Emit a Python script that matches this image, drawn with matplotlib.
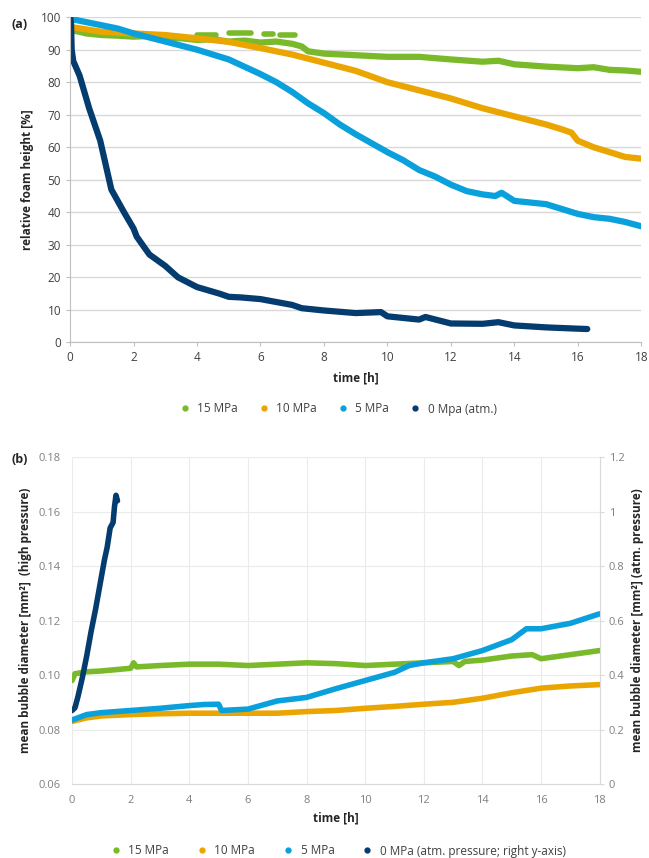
import numpy as np
import matplotlib.pyplot as plt
from matplotlib.lines import Line2D

plt.rcParams['font.family'] = ['Open Sans', 'DejaVu Sans']

# ---- colours
c15 = '#7AB929'
c10 = '#EBA500'
c5 = '#0AA0DC'
c0 = '#053C70'

# ---- panel (a): relative foam height [%]
t_a15 = [0, 0.3, 0.5, 1, 1.5, 2, 2.5, 3, 3.5, 4, 4.5, 5, 5.5, 6, 6.5, 7, 7.3, 7.5, 8, 9, 10, 11, 12, 13,
         13.5, 14, 15, 16, 16.5, 17, 17.5, 18]
h_a15 = [96, 95.5, 95, 94.5, 94.3, 94, 94.2, 93.5, 93.5, 93, 93.2, 92.5, 92.8, 92.2, 92.5, 91.8, 91, 89.5,
         88.8, 88.3, 87.8, 87.8, 87, 86.3, 86.6, 85.5, 84.8, 84.3, 84.6, 83.8, 83.6, 83.2]
# upper scattered dashes of the 15 MPa series
t_a15_up = [4.0, 4.6, np.nan, 5.0, 5.7, np.nan, 6.1, 6.4, np.nan, 6.6, 7.1]
h_a15_up = [94.6, 94.6, np.nan, 95.0, 95.0, np.nan, 94.7, 94.7, np.nan, 94.6, 94.6]

t_a10 = [0, 1, 2, 3, 4, 5, 6, 7, 8, 9, 10, 11, 12, 13, 14, 15, 15.5, 15.8, 16, 16.5, 17, 17.5, 18]
h_a10 = [97, 95.5, 95, 94.5, 93.5, 92.4, 90.5, 88.5, 86, 83.5, 80, 77.5, 75, 72, 69.5, 67, 65.5, 64.5, 62,
         60, 58.5, 57, 56.5]

t_a5 = [0, 0.5, 1, 1.5, 2, 3, 4, 5, 6, 6.5, 7, 7.5, 8, 8.5, 9, 10, 10.5, 11, 11.5, 12, 12.5, 13, 13.4, 13.6,
        14, 15, 15.5, 16, 16.5, 17, 17.5, 18]
h_a5 = [99.5, 98.5, 97.5, 96.5, 95, 92.5, 90, 87, 82.5, 80, 77, 73.5, 70.5, 67, 64, 58.5, 56, 53, 51, 48.5,
        46.5, 45.5, 45, 46, 43.5, 42.5, 41, 39.5, 38.5, 38, 37, 35.7]

t_a0 = [0, 0.03, 0.05, 0.1, 0.3, 0.6, 0.95, 1.3, 1.7, 2.0, 2.1, 2.5, 3.0, 3.4, 4.0, 4.7, 5, 5.4, 6, 7, 7.3,
        8, 9, 9.8, 10, 11, 11.2, 12, 13, 13.5, 14, 15, 16, 16.3]
h_a0 = [100, 98, 90, 86.5, 82, 72, 62, 47, 40, 35, 32.5, 27, 23.5, 20, 17, 15, 14, 13.8, 13.3, 11.5, 10.5,
        9.8, 9, 9.3, 8, 7, 7.8, 5.8, 5.7, 6.2, 5.2, 4.6, 4.2, 4.1]

# ---- panel (b): mean bubble diameter [mm2]
t_b15 = [0, 0.1, 0.5, 1, 1.5, 2, 2.1, 2.2, 3, 4, 5, 6, 7, 8, 9, 10, 11, 12, 13, 13.2, 13.4, 14, 15, 15.7,
         16, 17, 18]
d_b15 = [0.098, 0.1005, 0.1012, 0.1015, 0.102, 0.1025, 0.1045, 0.103, 0.1035, 0.104, 0.104, 0.1035, 0.104,
         0.1045, 0.1042, 0.1035, 0.104, 0.1045, 0.105, 0.1035, 0.105, 0.1055, 0.107, 0.1075, 0.106, 0.1075,
         0.109]

t_b10 = [0, 0.5, 1, 2, 3, 4, 5, 6, 7, 8, 9, 10, 11, 12, 13, 14, 15, 16, 17, 18]
d_b10 = [0.083, 0.0843, 0.085, 0.0855, 0.0858, 0.086, 0.086, 0.086, 0.086, 0.0866, 0.087, 0.0878, 0.0885,
         0.0893, 0.090, 0.0915, 0.0935, 0.0952, 0.096, 0.0965]

t_b5 = [0, 0.5, 1, 2, 3, 4, 4.5, 5.0, 5.1, 6, 7, 8, 9, 10, 11, 11.5, 12, 13, 14, 15, 15.5, 16, 17, 18]
d_b5 = [0.0835, 0.0855, 0.0862, 0.087, 0.0878, 0.0888, 0.0892, 0.0893, 0.087, 0.0875, 0.0905, 0.0918, 0.095,
        0.098, 0.101, 0.1035, 0.1045, 0.106, 0.109, 0.113, 0.117, 0.117, 0.119, 0.1225]

t_b0 = [0, 0.1, 0.2, 0.35, 0.5, 0.65, 0.8, 0.95, 1.1, 1.2, 1.3, 1.4, 1.45, 1.5, 1.55]
d_b0 = [0.27, 0.28, 0.32, 0.39, 0.47, 0.56, 0.64, 0.73, 0.82, 0.87, 0.94, 0.96, 1.02, 1.06, 1.04]

fig = plt.figure(figsize=(6.49, 8.58), dpi=100)

# ================= panel (a)
ax = fig.add_axes([0.108, 0.601, 0.880, 0.379])
ax.plot(t_a15_up, h_a15_up, color=c15, lw=4, solid_capstyle='round')
for t, h, c in [(t_a15, h_a15, c15), (t_a10, h_a10, c10), (t_a5, h_a5, c5), (t_a0, h_a0, c0)]:
    ax.plot(t, h, color=c, lw=4.5, solid_capstyle='round', solid_joinstyle='round')
ax.set_xlim(0, 18)
ax.set_ylim(0, 100)
ax.set_xticks(range(0, 19, 2))
ax.set_yticks(range(0, 101, 10))
ax.grid(axis='y', color='#D9D9D9', lw=1)
ax.set_axisbelow(True)
for s in ['top', 'right']:
    ax.spines[s].set_visible(False)
for s in ['left', 'bottom']:
    ax.spines[s].set_color('#BFBFBF')
ax.tick_params(length=3, color='#BFBFBF', labelsize=8.5, labelcolor='#404040')
ax.set_xlabel('time [h]', fontsize=8.5, fontweight='bold', color='#262626', labelpad=5)
ax.set_ylabel('relative foam height [%]', fontsize=8.5, fontweight='bold', color='#262626', labelpad=5)
fig.text(0.018, 0.972, '(a)', fontsize=9, fontweight='bold', color='#262626', va='center')

labels_a = ['15 MPa', '10 MPa', '5 MPa', '0 Mpa (atm.)']
handles = [Line2D([], [], marker='o', ls='', ms=3.5, color=c) for c in [c15, c10, c5, c0]]
fig.legend(handles, labels_a, loc='center', bbox_to_anchor=(0.516, 1 - 409 / 858), ncol=4, frameon=False,
           fontsize=8.5, handletextpad=0.05, columnspacing=1.2, labelcolor='#404040')

# ================= panel (b)
axb = fig.add_axes([0.111, 0.0862, 0.813, 0.381])
for t, d, c in [(t_b15, d_b15, c15), (t_b10, d_b10, c10), (t_b5, d_b5, c5)]:
    axb.plot(t, d, color=c, lw=4, solid_capstyle='round', solid_joinstyle='round')
axb.set_xlim(0, 18)
axb.set_ylim(0.06, 0.18)
axb.set_xticks(range(0, 19, 2))
axb.set_yticks(np.arange(0.06, 0.181, 0.02))
axb.set_yticklabels(['0.06', '0.08', '0.10', '0.12', '0.14', '0.16', '0.18'])
axb.grid(color='#EBEBEB', lw=0.8)
axb.set_axisbelow(True)
for s in axb.spines.values():
    s.set_visible(False)
axb.spines['bottom'].set_visible(True)
axb.spines['bottom'].set_color('#D9D9D9')
axb.tick_params(length=0, labelsize=8, labelcolor='#7F7F7F', pad=8)
axb.set_xlabel('time [h]', fontsize=8.5, fontweight='bold', color='#262626', labelpad=4)
axb.set_ylabel('mean bubble diameter [mm²]  (high pressure)', fontsize=8.5, fontweight='bold',
               color='#262626', labelpad=5)

axr = axb.twinx()
axr.plot(t_b0, d_b0, color=c0, lw=4, solid_capstyle='round', solid_joinstyle='round')
axr.set_ylim(0, 1.2)
axr.set_yticks(np.arange(0, 1.21, 0.2))
axr.set_yticklabels(['0', '0.2', '0.4', '0.6', '0.8', '1', '1.2'])
for s in axr.spines.values():
    s.set_visible(False)
axr.spines['right'].set_visible(True)
axr.spines['right'].set_color('#D9D9D9')
axr.tick_params(length=3, color='#D9D9D9', labelsize=8, labelcolor='#7F7F7F')
axr.set_ylabel('mean bubble diameter [mm²] (atm. pressure)', fontsize=8.5, fontweight='bold',
               color='#262626', labelpad=5)
fig.text(0.018, 1 - 459 / 858, '(b)', fontsize=9, fontweight='bold', color='#262626', va='center')

labels_b = ['15 MPa', '10 MPa', '5 MPa', '0 MPa (atm. pressure; right y-axis)']
fig.legend(handles, labels_b, loc='center', bbox_to_anchor=(0.516, 1 - 851 / 858), ncol=4, frameon=False,
           fontsize=8.5, handletextpad=0.05, columnspacing=1.8, labelcolor='#404040')

fig.savefig('out.png', dpi=100)
